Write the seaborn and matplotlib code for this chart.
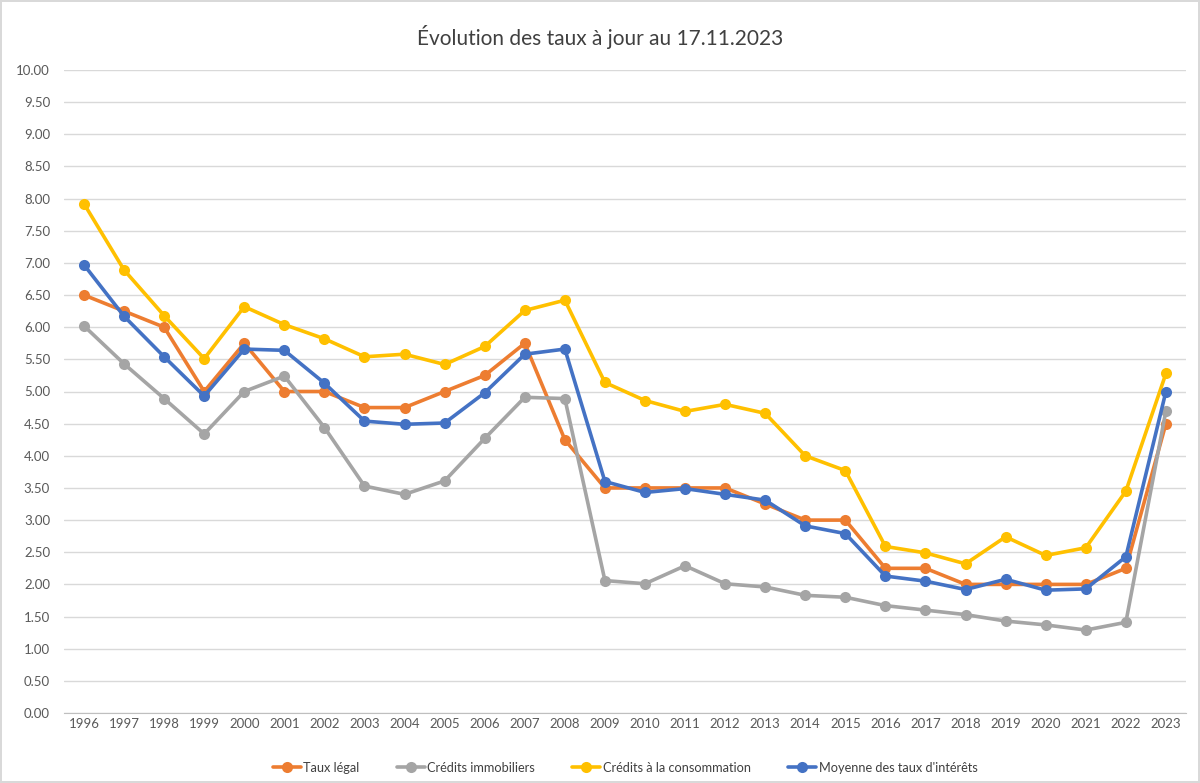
# Evolution des taux (reproduction of Excel line chart)

import numpy as np
import pandas as pd
import matplotlib
matplotlib.use('Agg')
import matplotlib.pyplot as plt
import seaborn as sb

years = list(range(1996, 2024))

taux_legal = [6.50, 6.25, 6.00, 5.00, 5.75, 5.00, 5.00, 4.75, 4.75, 5.00, 5.25, 5.75, 4.25, 3.50,
              3.50, 3.50, 3.50, 3.25, 3.00, 3.00, 2.25, 2.25, 2.00, 2.00, 2.00, 2.00, 2.25, 4.50]
credits_immo = [6.02, 5.43, 4.89, 4.34, 5.00, 5.24, 4.44, 3.53, 3.40, 3.61, 4.27, 4.91, 4.89, 2.06,
                2.01, 2.29, 2.01, 1.96, 1.83, 1.80, 1.67, 1.60, 1.53, 1.43, 1.37, 1.29, 1.41, 4.70]
credits_conso = [7.92, 6.89, 6.18, 5.51, 6.32, 6.04, 5.82, 5.54, 5.58, 5.42, 5.70, 6.26, 6.42, 5.14,
                 4.86, 4.69, 4.80, 4.66, 4.00, 3.77, 2.59, 2.49, 2.32, 2.74, 2.45, 2.57, 3.45, 5.28]
moyenne = [6.97, 6.17, 5.54, 4.93, 5.66, 5.64, 5.13, 4.54, 4.49, 4.51, 4.98, 5.58, 5.66, 3.60,
           3.43, 3.49, 3.40, 3.31, 2.91, 2.79, 2.13, 2.05, 1.92, 2.08, 1.91, 1.93, 2.43, 5.00]

series_names = ["Taux légal", "Crédits immobiliers", "Crédits à la consommation",
                "Moyenne des taux d'intérêts"]
colors = ["#ED7D31", "#A5A5A5", "#FFC000", "#4472C4"]

df = pd.DataFrame({"year": years * 4,
                   "value": taux_legal + credits_immo + credits_conso + moyenne,
                   "serie": np.repeat(series_names, len(years))})

sb.set_style("white")
plt.rcParams['font.family'] = ['Lato', 'DejaVu Sans']

fig = plt.figure(figsize=(12, 7.83), dpi=100)
fig.patch.set_edgecolor("#D9D9D9")
fig.patch.set_linewidth(1.5)
ax = fig.add_axes([0.0533, 0.0894, 0.935, 0.8212])

sb.lineplot(data=df, x="year", y="value", hue="serie", hue_order=series_names,
            palette=colors, marker="o", markersize=8, markeredgewidth=0,
            linewidth=2.6, ax=ax)

ax.set_xlim(years[0] - 0.5, years[-1] + 0.5)
ax.set_ylim(0, 10)
ax.set_xticks(years)
ax.set_yticks(np.arange(0, 10.01, 0.5))
ax.set_yticklabels([f"{v:.2f}" for v in np.arange(0, 10.01, 0.5)])
ax.tick_params(axis="both", labelsize=9.5, colors="#595959", length=0)
ax.tick_params(axis="y", pad=10)
ax.grid(axis="y", color="#D9D9D9", linewidth=1)
ax.set_axisbelow(True)
for s in ["top", "right", "left"]:
    ax.spines[s].set_visible(False)
ax.spines["bottom"].set_color("#BFBFBF")
ax.set_xlabel("")
ax.set_ylabel("")

fig.text(0.5, 0.953, "Évolution des taux à jour au 17.11.2023", ha="center", va="center",
         fontsize=15, color="#404040")

handles, labels = ax.get_legend_handles_labels()
ax.legend(handles, labels, loc="center", bbox_to_anchor=(0.5, -0.085), ncol=4, frameon=False,
          fontsize=9.2, labelcolor="#404040", handlelength=2.2, columnspacing=2.9,
          handletextpad=0.2)

plt.savefig("out.png", dpi=100)
